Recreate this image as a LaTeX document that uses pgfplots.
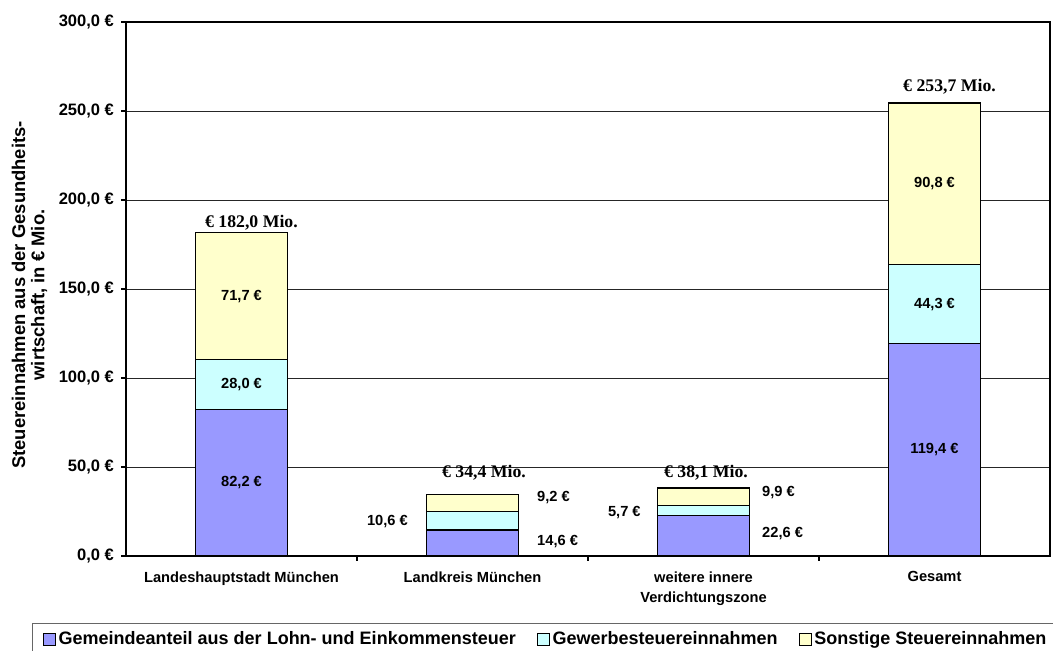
\documentclass[border=0pt]{standalone}
\usepackage{fontspec}
\setmainfont{Liberation Sans}
\newfontfamily\serifb{Liberation Serif}
\usepackage{pgfplots}
\pgfplotsset{compat=1.18}
\definecolor{cBlue}{RGB}{153,153,255}
\definecolor{cCyan}{RGB}{204,255,255}
\definecolor{cYellow}{RGB}{255,255,204}
\newcommand{\yt}[1]{\fontsize{12.4}{14}\selectfont\bfseries #1}
\tikzset{dl/.style={font=\fontsize{11}{13}\selectfont\bfseries, inner sep=0pt},
  tl/.style={font=\serifb\fontsize{13.3}{15}\selectfont\bfseries, inner sep=0pt}}
\begin{document}
\begin{tikzpicture}
\useasboundingbox (0,0) rectangle (789.75pt,-487.5pt);
\begin{axis}[
  at={(94.5pt,-417pt)}, anchor=south west,
  scale only axis, width=693pt, height=400.5pt,
  xmin=-0.5, xmax=3.5, ymin=0, ymax=300,
  ybar stacked, bar width=69pt,
  axis line style={black, line width=0.8pt},
  tick pos=left,
  ytick={0,50,100,150,200,250,300},
  yticklabels={{\yt{0,0 €}},{\yt{50,0 €}},{\yt{100,0 €}},{\yt{150,0 €}},{\yt{200,0 €}},{\yt{250,0 €}},{\yt{300,0 €}}},
  yticklabel style={font=\fontsize{12.4}{14}\selectfont\bfseries, xshift=-2pt},
  ytick align=outside, major tick length=3.5pt,
  ytick style={black, line width=0.8pt},
  ymajorgrids, grid style={black!85, line width=0.6pt},
  xtick={0,1,2,3},
  xticklabels={Landeshauptstadt München, Landkreis München, {weitere innere\\Verdichtungszone}, Gesamt},
  xticklabel style={font=\fontsize{11}{15}\selectfont\bfseries, align=center, yshift=-8pt},
  xtick style={draw=none},
  extra x ticks={0.5,1.5,2.5},
  extra x tick labels={},
  extra x tick style={xtick style={draw=black, line width=0.8pt}, xtick align=outside, tick pos=left},
  legend columns=3,
  legend style={at={(axis description cs:-0.1017,-0.1255)}, anchor=north west,
    draw=black!60, line width=0.8pt, font=\fontsize{13.5}{15}\selectfont\bfseries,
    inner xsep=8pt, inner ysep=4pt,
    /tikz/every even column/.append style={column sep=14pt}},
  legend image code/.code={\draw[#1, draw=black, line width=0.6pt] (0pt,-4.5pt) rectangle (9pt,4.5pt);},
  clip=false,
]
\addplot[fill=cBlue, draw=black, line width=0.8pt] coordinates {(0,82.2) (1,14.6) (2,22.6) (3,119.4)};
\addplot[fill=cCyan, draw=black, line width=0.8pt] coordinates {(0,28.0) (1,10.6) (2,5.7) (3,44.3)};
\addplot[fill=cYellow, draw=black, line width=0.8pt] coordinates {(0,71.7) (1,9.2) (2,9.9) (3,90.8)};
\legend{Gemeindeanteil aus der Lohn- und Einkommensteuer, Gewerbesteuereinnahmen, Sonstige Steuereinnahmen}
\coordinate (a1) at (axis cs:0,41.1);
\coordinate (a2) at (axis cs:0,96.2);
\coordinate (a3) at (axis cs:0,146.05);
\coordinate (d1) at (axis cs:3,59.7);
\coordinate (d2) at (axis cs:3,141.55);
\coordinate (d3) at (axis cs:3,209.1);
\coordinate (b1) at (axis cs:1.279,8.4);
\coordinate (b2) at (axis cs:0.721,19.1);
\coordinate (b3) at (axis cs:1.279,33.1);
\coordinate (c1) at (axis cs:2.253,12.9);
\coordinate (c2) at (axis cs:1.729,24.2);
\coordinate (c3) at (axis cs:2.253,35.4);
\coordinate (t0) at (axis cs:0.043,187.1);
\coordinate (t1) at (axis cs:1.05,46.6);
\coordinate (t2) at (axis cs:2.011,46.6);
\coordinate (t3) at (axis cs:3.065,263.5);
\end{axis}
\node[dl] at (a1) {82,2 €};
\node[dl] at (a2) {28,0 €};
\node[dl] at (a3) {71,7 €};
\node[dl] at (d1) {119,4 €};
\node[dl] at (d2) {44,3 €};
\node[dl] at (d3) {90,8 €};
\node[dl, anchor=west] at (b1) {14,6 €};
\node[dl, anchor=east] at (b2) {10,6 €};
\node[dl, anchor=west] at (b3) {9,2 €};
\node[dl, anchor=west] at (c1) {22,6 €};
\node[dl, anchor=east] at (c2) {5,7 €};
\node[dl, anchor=west] at (c3) {9,9 €};
\node[tl] at (t0) {€ 182,0 Mio.};
\node[tl] at (t1) {€ 34,4 Mio.};
\node[tl] at (t2) {€ 38,1 Mio.};
\node[tl] at (t3) {€ 253,7 Mio.};
\node[rotate=90, align=center, font=\fontsize{13.8}{14.5}\selectfont\bfseries, inner sep=0pt]
  at (22.1pt,-221.25pt) {Steuereinnahmen aus der Gesundheits-\\wirtschaft, in € Mio.};
\end{tikzpicture}
\end{document}
